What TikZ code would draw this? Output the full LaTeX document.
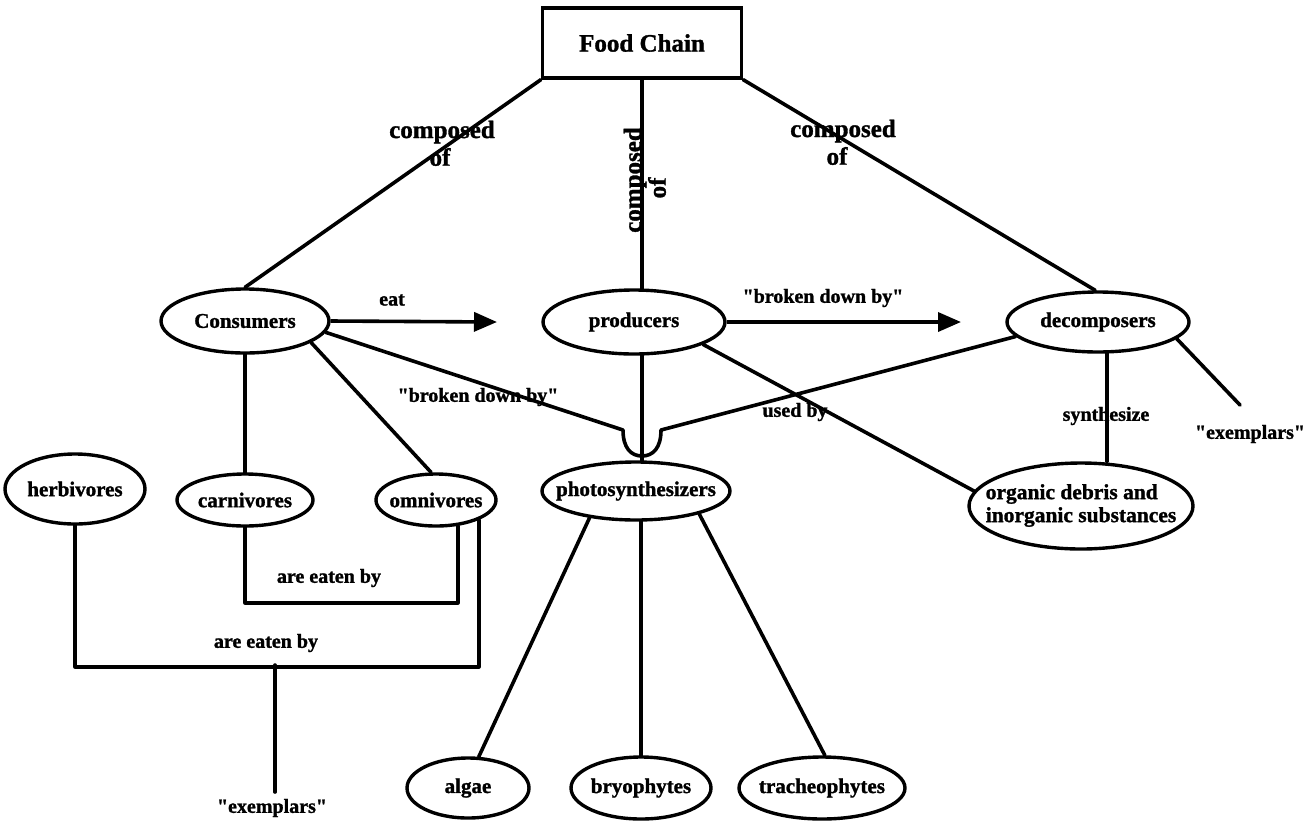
\documentclass[tikz,border=0pt]{standalone}
\usepackage{fontspec}
\setmainfont{Liberation Serif}[BoldFeatures={FakeBold=1.3}]
\usetikzlibrary{arrows.meta,shapes.geometric}

\tikzset{
  conn/.style={line width=3.6pt, line cap=round, line join=round},
  arr/.style={conn, line cap=butt, -{Triangle[length=23pt,width=19pt]}},
  oval/.style={ellipse, draw, line width=3.4pt, inner sep=0pt,
    font=\fontsize{21}{22}\selectfont\bfseries},
  boxnode/.style={rectangle, draw, line width=3.4pt, inner sep=0pt,
    minimum width=199pt, minimum height=70pt,
    font=\fontsize{25}{26}\selectfont\bfseries},
  lbl/.style={inner sep=0pt, font=\fontsize{20}{21}\selectfont\bfseries},
  biglbl/.style={inner sep=0pt, font=\fontsize{25}{26}\selectfont\bfseries}
}
% text of a fixed-size oval: the box takes no width, so the oval keeps its given size
\newcommand{\ovtext}[1]{\makebox[0pt]{#1}}

\begin{document}
\begin{tikzpicture}[x=1pt,y=-1pt]
\useasboundingbox (0,0) rectangle (1316,820);

% top concept
\node[boxnode] (fc) at (642,43) {Food Chain};

% second row
\node[oval, minimum width=168pt, minimum height=64pt] (cons) at (245,321) {\ovtext{Consumers}};
\node[oval, minimum width=182pt, minimum height=64pt] (prod) at (634,322) {\ovtext{producers}};
\node[oval, minimum width=182pt, minimum height=60pt] (dec) at (1098,322) {\ovtext{decomposers}};

% third row
\node[oval, minimum width=140pt, minimum height=70pt] (herb) at (75,489) {\ovtext{herbivores}};
\node[oval, minimum width=136pt, minimum height=52pt] (carn) at (245,500) {\ovtext{carnivores}};
\node[oval, minimum width=120pt, minimum height=52pt] (omni) at (436,500) {\ovtext{omnivores}};
\node[oval, minimum width=188pt, minimum height=58pt] (photo) at (636,491) {\ovtext{photosynthesizers}};
\node[oval, minimum width=224pt, minimum height=86pt] (org) at (1081,506)
  {\ovtext{\fontsize{21.5}{23}\selectfont\begin{tabular}{@{}l@{}}organic debris and\\inorganic substances\end{tabular}}};

% bottom row
\node[oval, minimum width=122pt, minimum height=60pt] (algae) at (468,788) {\ovtext{algae}};
\node[oval, minimum width=140pt, minimum height=62pt] (bryo) at (641,788) {\ovtext{bryophytes}};
\node[oval, minimum width=166pt, minimum height=62pt] (trach) at (822,788) {\ovtext{tracheophytes}};

% free ends and junction points
\coordinate (eatend) at (497,322);
\coordinate (brkend) at (961,322);
\coordinate (uleft) at (623,430);
\coordinate (uright) at (661,430);
\coordinate (ubot) at (642,456);
\coordinate (decex) at (1240,405);
\coordinate (hemid) at (275,665);
\coordinate (hebot) at (275,792);

% Food Chain links
\draw[conn] (fc.south west) -- (cons.north);
\draw[conn] (fc.south east) -- (dec.95);
\draw[conn] (fc.south) -- (fc.south |- prod.north);
\node[biglbl] at (442,132) {composed};
\node[biglbl] at (440,157) {of};
\node[biglbl] at (843,131) {composed};
\node[biglbl] at (837,156) {of};
\node[biglbl, rotate=90] at (635,180) {composed};
\node[biglbl, rotate=90] at (657,188) {of};

% arrows along the second row
\draw[arr] (cons.east) -- (eatend);
\node[lbl] at (392,300) {eat};
\draw[arr] (prod.east) -- (brkend);
\node[lbl] at (823,298) {\textquotedbl broken down by\textquotedbl};

% the two "broken down by" lines meeting on the producers stem
\draw[conn] (cons.-8) -- (uleft) .. controls (623,448) and (631,456) .. (ubot);
\draw[conn] (dec.-170) -- (uright) .. controls (661,448) and (653,456) .. (ubot);
\node[lbl] at (478,397) {\textquotedbl broken down by\textquotedbl};
\draw[conn] (fc.south |- prod.south) -- (ubot) -- (ubot |- photo.north);

% decomposers links
\draw[conn] (dec.south -| 1107,0) -- (org.north -| 1107,0);
\node[lbl] at (1106,416) {synthesize};
\draw[conn] (dec.-12) -- (decex);
\node[lbl] at (1250,434) {\textquotedbl exemplars\textquotedbl};

% producers used by organic debris
\draw[conn] (prod.-18) -- (org.172);
\node[lbl] at (795,412) {used by};

% consumers breakdown
\draw[conn] (cons.south) -- (carn.north);
\draw[conn] (cons.-18) -- (omni.100);

% are eaten by brackets
\draw[conn] (carn.south) -- ++(0,75) -| (omni.-50);
\node[lbl] at (329,578) {are eaten by};
\draw[conn] (herb.south) -- ++(0,141) -| (omni.-25);
\node[lbl] at (266,643) {are eaten by};
\draw[conn] (hemid) -- (hebot);
\node[lbl] at (272,808) {\textquotedbl exemplars\textquotedbl};

% photosynthesizers breakdown
\draw[conn] (photo.-150) -- (algae.71);
\draw[conn] (bryo.north |- photo.south) -- (bryo.north);
\draw[conn] (photo.-20) -- (trach.85);
\end{tikzpicture}
\end{document}
